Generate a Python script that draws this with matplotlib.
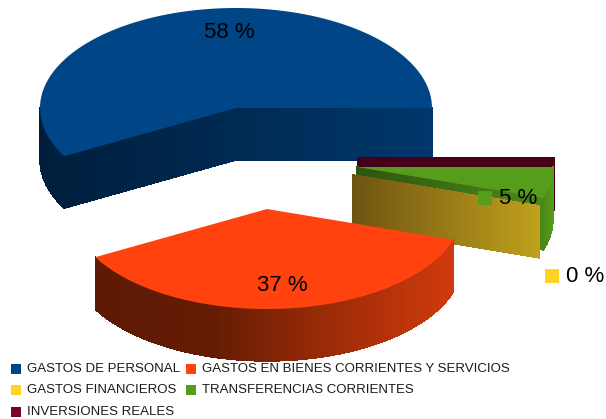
import numpy as np
import matplotlib
matplotlib.use("Agg")
import matplotlib.pyplot as plt
from matplotlib.collections import LineCollection, PolyCollection
from matplotlib.colors import LinearSegmentedColormap

plt.rcParams["font.family"] = ["Liberation Sans", "DejaVu Sans"]

# Datos
categories = ["GASTOS DE PERSONAL", "GASTOS EN BIENES CORRIENTES Y SERVICIOS",
              "GASTOS FINANCIEROS", "TRANSFERENCIAS CORRIENTES", "INVERSIONES REALES"]
values = [58, 37, 0, 5, 0]
labels = ["58 %", "37 %", "0 %", "5 %", None]
colors = ["#004586", "#ff420e", "#ffd320", "#579d1c", "#7e0021"]

# Geometria del pastel (pixeles)
rx, ry, depth = 196, 100, 52
centers = [(236, 108), (267, 209), (353, 175), (357, 167), (358, 158)]
label_pos = [(229.5, 32.5), (282, 285.5), (585, 276), (518, 198.5), None]
key_pos = [(191, 32), (243, 285), (552, 276), (485, 198), None]
legend_pos = [(16, 369), (191, 369), (16, 390), (191, 390), (16, 412)]

# caras laterales: colores de izquierda a derecha
rim_cols = [["#001e3c", "#00203f"], ["#5e1a04", "#651c04", "#9d2c08", "#d03a0c"], None,
            ["#4a8818", "#549a1b"], None]
cut_start = [["#00203f", "#002a52"], None, ["#6e5412", "#c0a01c"], ["#2c5410", "#4c8a18"], None]
cut_end = [["#002a52", "#00376c"], None, None, None, ["#46001a", "#46001a"]]

fig = plt.figure(figsize=(6.06, 4.19), dpi=100)
ax = fig.add_axes([0, 0, 1, 1])


def pt(c, a):
    return c[0] + rx * np.cos(a), c[1] - ry * np.sin(a)


def shade(xs, ys, cols):
    # cara lateral en tiras verticales, degradado segun x
    cmap = LinearSegmentedColormap.from_list("s", cols)
    u = (xs - xs.min()) / (xs.max() - xs.min())
    quads = []
    fc = []
    low = []
    for k in range(len(xs) - 1):
        quads.append([(xs[k], ys[k]), (xs[k + 1], ys[k + 1]),
                      (xs[k + 1], ys[k + 1] + depth), (xs[k], ys[k] + depth)])
        low.append([(xs[k], ys[k] + depth), (xs[k + 1], ys[k + 1] + depth)])
        fc.append(cmap((u[k] + u[k + 1]) / 2))
    ax.add_collection(PolyCollection(quads, facecolors=fc, edgecolors=fc, linewidths=0.3,
                                     antialiaseds=False, zorder=1))
    # borde inferior suavizado
    ax.add_collection(LineCollection(low, colors=fc, linewidths=0.6, zorder=1))


def cut_face(c, a, cols):
    x, y = pt(c, a)
    shade(np.linspace(c[0], x, 100), np.linspace(c[1], y, 100), cols)


shares = np.array(values) / sum(values) * 2 * np.pi
ends = np.cumsum(shares)
starts = ends - shares

# orden de dibujo: de atras hacia adelante
for i in [0, 4, 3, 2, 1]:
    c, a0, a1 = centers[i], starts[i], ends[i]
    if cut_end[i]:
        cut_face(c, a0 if i == 0 else a1, cut_end[i])
    if cut_start[i]:
        cut_face(c, a1 if i == 0 else a0, cut_start[i])
    if rim_cols[i]:
        # solo la parte del borde que mira al frente (mitad inferior)
        lo = max(a0, np.pi)
        if a1 > lo:
            shade(*pt(c, np.linspace(lo, a1, 100)), rim_cols[i])
    if a1 > a0:
        xs, ys = pt(c, np.linspace(a0, a1, 200))
        ax.fill(np.r_[c[0], xs], np.r_[c[1], ys], color=colors[i], lw=0, zorder=1)

for i, lab in enumerate(labels):
    if lab is None:
        continue
    ax.scatter(*key_pos[i], marker="s", s=95, color=colors[i], lw=0, zorder=5)
    ax.text(*label_pos[i], lab, fontsize=16, ha="center", va="center", color="black", zorder=6)

for i, name in enumerate(categories):
    x, y = legend_pos[i]
    ax.scatter(x, y, marker="s", s=42, color=colors[i], lw=0, zorder=5)
    ax.text(x + 11, y + 0.3, name, fontsize=9.52, ha="left", va="center", color="#1a1a1a", zorder=6)

ax.set_xlim(0, 606)
ax.set_ylim(419, 0)
ax.axis("off")
fig.savefig("out.png", dpi=100, facecolor="white")
